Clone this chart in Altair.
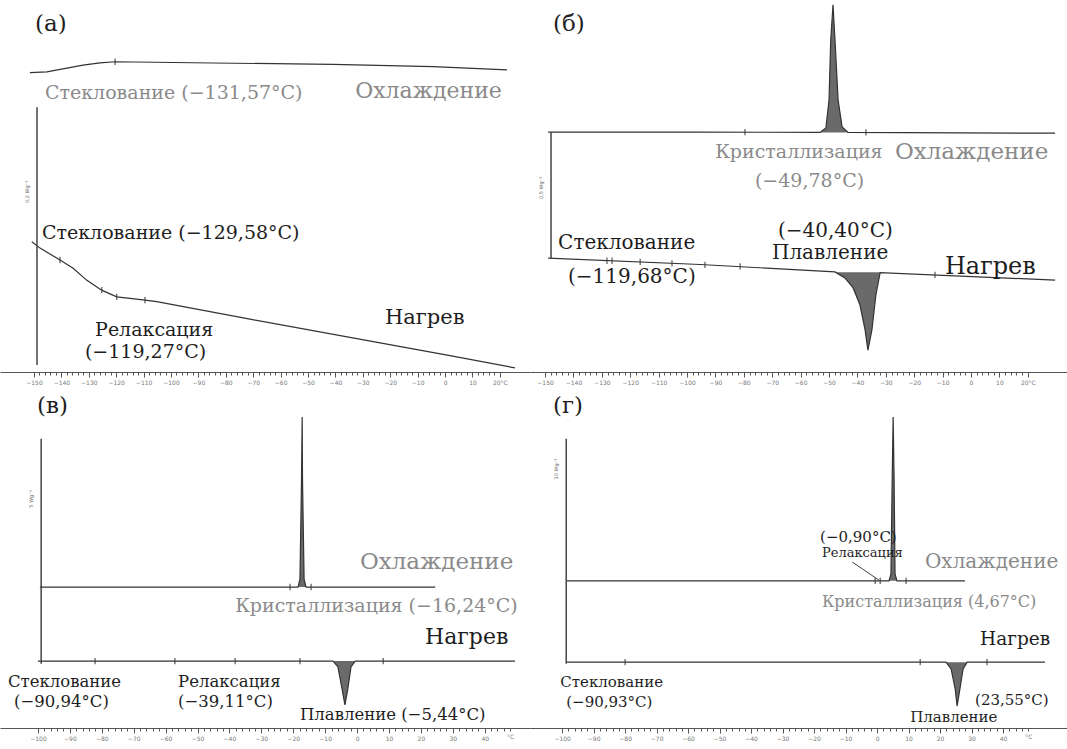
import altair as alt
import pandas as pd

# ---------------- panel (a) ----------------
a_cool_T = [-151.5, -145.3, -138.0, -132.1, -125.9, -120.4, -77.4, -40.9, -4.4, 22.6]
a_cool_hf = [80.5, 80.7, 81.7, 82.5, 83.1, 83.4, 83.0, 82.7, 82.1, 81.2]
a_heat_T = [-150.8, -147.8, -140.5, -135.7, -130.8, -125.3, -119.8, -110.2, -105.2, -71.2, -34.7, 1.8, 25.5]
a_heat_hf = [35.0, 33.3, 30.1, 27.9, 24.7, 22.0, 20.2, 19.4, 18.9, 14.2, 9.3, 4.4, 1.1]
a_mark_T = [-120.4, -140.5, -125.3, -119.8, -109.5]
a_mark_hf = [83.4, 30.1, 22.0, 20.2, 19.3]

# ---------------- panel (б) ----------------
b_cool_T = [-148.9, -95.4, -53.2, -51.1, -50.0, -49.4, -48.6, -47.9, -46.8, -45.4, -43.3, 29.6]
b_cool_hf = [64.5, 64.5, 64.4, 65.6, 73.1, 89.2, 98.7, 89.2, 73.1, 65.9, 64.4, 64.2]
b_heat_T = [-148.9, -95.4, -47.9, -44.4, -41.5, -39.1, -37.3, -36.3, -34.9, -33.5, -32.0, 29.6]
b_heat_hf = [30.6, 28.9, 26.9, 25.3, 22.6, 18.0, 11.3, 5.9, 11.3, 20.7, 26.7, 24.7]
b_mark_T = [-79.6, -37.0, -128.2, -126.4, -116.5, -105.3, -93.7, -81.3, -12.7]
b_mark_hf = [64.5, 64.4, 29.9, 29.9, 29.6, 29.2, 28.8, 28.4, 26.1]

# ---------------- panel (в) ----------------
c_cool_T = [-99.4, -18.5, -17.9, -17.4, -17.2, -17.1, -16.6, -16.0, 24.5]
c_cool_hf = [41.1, 41.1, 43.4, 72.6, 90.7, 72.6, 43.4, 41.1, 41.1]
c_heat_T = [-100.0, -7.5, -6.0, -4.7, -3.8, -2.9, -1.9, -0.6, 49.5]
c_heat_hf = [19.5, 19.5, 17.8, 11.4, 6.7, 11.4, 17.8, 19.5, 19.5]
c_mark_T = [-21.0, -14.4, -82.1, -57.1, -38.2, -17.9, 8.2]
c_mark_hf = [41.1, 41.1, 19.5, 19.5, 19.5, 19.5, 19.5]

# ---------------- panel (г) ----------------
d_cool_T = [-98.7, 3.8, 4.4, 4.8, 5.1, 5.4, 5.7, 6.3, 27.9]
d_cool_hf = [42.9, 42.9, 44.9, 72.6, 90.7, 72.6, 44.9, 42.9, 42.9]
d_heat_T = [-98.7, 21.9, 23.5, 24.8, 25.4, 26.3, 27.3, 28.6, 53.3]
d_heat_hf = [19.2, 19.2, 17.2, 11.4, 6.4, 11.4, 17.2, 19.2, 19.2]
d_mark_T = [-0.6, 1.0, 9.2, -80.0, 13.7, 34.9]
d_mark_hf = [42.9, 42.9, 42.9, 19.2, 19.2, 19.2]

# axis tick labels
ticks_ab = list(range(-150, 21, 2))
ticks_cd = list(range(-100, 47, 2)) + [48]

GREY = "#8a8a8a"
BLACK = "#1e1e1e"
LINE = "#333333"
SERIF = "DejaVu Serif"
GROUP_COLOR = {"grey": GREY, "bigGrey": GREY, "black": BLACK, "bigBlack": BLACK, "small": BLACK}


def curve_df(cT, chf, hT, hhf):
    return pd.concat([
        pd.DataFrame({"T": cT, "hf": chf, "s": "cool"}),
        pd.DataFrame({"T": hT, "hf": hhf, "s": "heat"}),
    ], ignore_index=True)


def panel(width, height, domain, ticks, label_expr, cool, heat, marks,
          peaks, bar, bar_label, name, texts, sizes, extra=None):
    x = alt.X("T:Q", scale=alt.Scale(domain=domain, nice=False, zero=False),
              axis=alt.Axis(values=ticks, labelExpr=label_expr, title=None, grid=False,
                            domainColor="#555", tickColor="#555", domainWidth=1,
                            tickSize={"condition": {"test": "datum.value % 10 == 0", "value": 5}, "value": 3},
                            labelFontSize=6, labelColor="#777", labelFont="DejaVu Sans",
                            labelOverlap=False, labelPadding=2, labelFlush=False))
    y = alt.Y("hf:Q", scale=alt.Scale(domain=[0, 100], nice=False, zero=False), axis=None)

    cdf = curve_df(cool[0], cool[1], heat[0], heat[1])
    layers = []
    for (src, lo, hi, base) in peaks:
        sub = pd.DataFrame({"T": src[0], "hf": src[1]})
        sub = sub[(sub["T"] >= lo) & (sub["T"] <= hi)]
        layers.append(alt.Chart(sub).mark_area(color="#5a5a5a", opacity=0.9).encode(
            x=x, y=y, y2=alt.datum(base)))
    layers.append(alt.Chart(cdf).mark_line(color=LINE, strokeWidth=1.2).encode(
        x=x, y=y, detail="s:N"))
    mdf = pd.DataFrame({"T": marks[0], "hf": marks[1]})
    layers.append(alt.Chart(mdf).mark_point(shape="M0,-1L0,1", size=40, strokeWidth=1.4,
                                            color=LINE, filled=False).encode(x=x, y=y))
    bdf = pd.DataFrame({"T": [bar[0]], "hf": [bar[1]], "hf2": [bar[2]]})
    layers.append(alt.Chart(bdf).mark_rule(color="#444", strokeWidth=1.5).encode(
        x=x, y=y, y2="hf2:Q"))
    if extra is not None:
        edf = pd.DataFrame({"T": [extra[0]], "hf": [extra[1]], "T2": [extra[2]], "hf2": [extra[3]]})
        layers.append(alt.Chart(edf).mark_rule(color="#444", strokeWidth=1).encode(
            x=x, y=y, x2="T2:Q", y2="hf2:Q"))
    bl = pd.DataFrame({"t": [bar_label[0]], "T": [bar_label[1]], "hf": [bar_label[2]]})
    layers.append(alt.Chart(bl).mark_text(angle=270, fontSize=5, color="#666",
                                          font="DejaVu Sans").encode(x=x, y=y, text="t:N"))
    ndf = pd.DataFrame({"t": [name[0]], "T": [name[1]], "hf": [name[2]]})
    layers.append(alt.Chart(ndf).mark_text(align="left", baseline="middle", fontSize=23,
                                           font=SERIF, color=BLACK).encode(x=x, y=y, text="t:N"))
    tdf = pd.DataFrame(texts, columns=["t", "T", "hf", "g"])
    for g, size in sizes.items():
        sub = tdf[tdf["g"] == g]
        if len(sub) == 0:
            continue
        layers.append(alt.Chart(sub).mark_text(align="left", baseline="middle", fontSize=size,
                                               font=SERIF, color=GROUP_COLOR[g]).encode(
            x=x, y=y, text="t:N"))
    return alt.layer(*layers).properties(width=width, height=height)


lab_ab = "datum.value == 20 ? '20°C' : (datum.value % 10 == 0 ? datum.label : '')"
lab_cd = "datum.value == 48 ? '°C' : (datum.value % 10 == 0 ? datum.label : '')"

pa = panel(530, 372, [-162.4, 31.0], ticks_ab, lab_ab,
           (a_cool_T, a_cool_hf), (a_heat_T, a_heat_hf), (a_mark_T, a_mark_hf),
           [], (-148.9, 71.2, 1.9), ("0,2 Wg⁻¹", -152.6, 48.4), ("(a)", -149.6, 93.5),
           [("Стеклование (−131,57°C)", -146.0, 75.0, "grey"), ("Охлаждение", -32.8, 75.5, "bigGrey"),
            ("Стеклование (−129,58°C)", -147.1, 37.4, "black"), ("Нагрев", -21.9, 14.5, "bigBlack"),
            ("Релаксация", -127.7, 11.3, "black"), ("(−119,27°C)", -131.4, 5.4, "black")],
           {"grey": 19, "bigGrey": 22, "black": 19, "bigBlack": 21})

pb = panel(537, 372, [-155.3, 33.8], ticks_ab, lab_ab,
           (b_cool_T, b_cool_hf), (b_heat_T, b_heat_hf), (b_mark_T, b_mark_hf),
           [((b_cool_T, b_cool_hf), -53.2, -43.3, 64.4), ((b_heat_T, b_heat_hf), -47.9, -32.0, 26.8)],
           (-147.9, 64.5, 30.6), ("0,5 Wg⁻¹", -151.4, 49.5), ("(б)", -147.2, 93.5),
           [("Кристаллизация", -90.1, 59.1, "grey"), ("(−49,78°C)", -76.1, 51.3, "grey"),
            ("Охлаждение", -26.8, 59.1, "bigGrey"),
            ("Стеклование", -145.4, 34.7, "black"), ("(−119,68°C)", -141.9, 25.5, "black"),
            ("(−40,40°C)", -68.0, 37.9, "black"), ("Плавление", -70.1, 32.0, "black"),
            ("Нагрев", -9.2, 28.2, "bigBlack")],
           {"grey": 19, "bigGrey": 23, "black": 20, "bigBlack": 24})

pc = panel(530, 343, [-111.9, 54.2], ticks_cd, lab_cd,
           (c_cool_T, c_cool_hf), (c_heat_T, c_heat_hf), (c_mark_T, c_mark_hf),
           [((c_cool_T, c_cool_hf), -18.5, -16.0, 41.1), ((c_heat_T, c_heat_hf), -7.5, -0.6, 19.5)],
           (-99.0, 84.3, 18.7), ("5 Wg⁻¹", -102.2, 66.8), ("(в)", -100.3, 93.9),
           [("Охлаждение", 0.9, 48.4, "bigGrey"), ("Кристаллизация (−16,24°C)", -38.2, 35.6, "grey"),
            ("Нагрев", 21.3, 26.5, "bigBlack"), ("Стеклование", -109.4, 13.4, "black"),
            ("(−90,94°C)", -107.5, 7.6, "black"), ("Релаксация", -56.1, 13.4, "black"),
            ("(−39,11°C)", -56.1, 7.6, "black"), ("Плавление (−5,44°C)", -17.9, 3.8, "black")],
           {"grey": 19, "bigGrey": 23, "black": 16.5, "bigBlack": 22})

pd_ = panel(537, 343, [-110.2, 60.3], ticks_cd, lab_cd,
            (d_cool_T, d_cool_hf), (d_heat_T, d_heat_hf), (d_mark_T, d_mark_hf),
            [((d_cool_T, d_cool_hf), 3.8, 6.3, 42.9), ((d_heat_T, d_heat_hf), 21.9, 28.6, 19.2)],
            (-98.7, 84.3, 18.7), ("10 Wg⁻¹", -101.9, 75.5), ("(г)", -102.9, 93.9),
            [("Охлаждение", 15.2, 48.4, "bigGrey"), ("Кристаллизация (4,67°C)", -17.5, 36.7, "grey"),
             ("(−0,90°C)", -18.1, 55.7, "black"), ("Релаксация", -17.5, 51.0, "small"),
             ("Нагрев", 32.7, 25.9, "bigBlack"), ("Стеклование", -100.6, 13.4, "black"),
             ("(−90,93°C)", -98.7, 7.6, "black"), ("(23,55°C)", 31.1, 8.2, "black"),
             ("Плавление", 10.5, 3.2, "black")],
            {"grey": 16, "bigGrey": 20, "black": 15, "bigBlack": 18.5, "small": 13},
            extra=(-7.9, 48.4, 0.6, 43.1))

row1 = alt.hconcat(pa, pb, spacing=0)
row2 = alt.hconcat(pc, pd_, spacing=0)
chart = alt.vconcat(row1, row2, spacing=0).properties(padding=0, background="white").configure_view(stroke=None)

chart.save("out.html", embed_options={"renderer": "svg", "actions": False})
